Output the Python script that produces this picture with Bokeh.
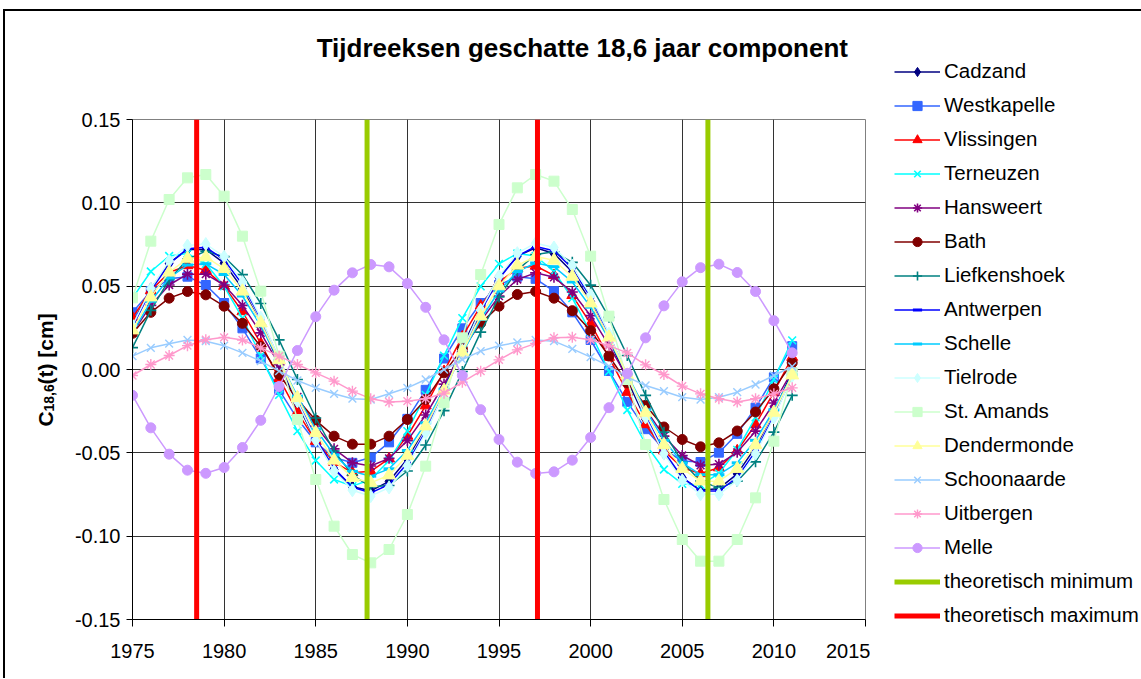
import math
from bokeh.plotting import figure
from bokeh.layouts import row, column
from bokeh.models import (Legend, LegendItem, FixedTicker, PrintfTickFormatter, Range1d)
from bokeh.core.properties import value
from bokeh.embed import file_html
from bokeh.resources import INLINE

years = list(range(1975, 2012))

cadzand = [0.0277, 0.0485, 0.0638, 0.0720, 0.0720, 0.0638, 0.0485, 0.0277, 0.0037, -0.0207,
           -0.0427, -0.0599, -0.0704, -0.0728, -0.0671, -0.0537, -0.0343, -0.0111, 0.0135, 0.0365,
           0.0554, 0.0680, 0.0730, 0.0696, 0.0585, 0.0407, 0.0183, -0.0062, -0.0299, -0.0503,
           -0.0650, -0.0723, -0.0715, -0.0626, -0.0466, -0.0254, -0.0012]
westkapelle = [0.0343, 0.0470, 0.0544, 0.0557, 0.0507, 0.0399, 0.0247, 0.0066, -0.0122, -0.0296,
               -0.0437, -0.0528, -0.0560, -0.0528, -0.0437, -0.0296, -0.0122, 0.0066, 0.0247, 0.0399,
               0.0507, 0.0557, 0.0544, 0.0470, 0.0343, 0.0177, -0.0009, -0.0194, -0.0358, -0.0480,
               -0.0549, -0.0555, -0.0499, -0.0386, -0.0229, -0.0047, 0.0140]
vlissingen = [0.0312, 0.0474, 0.0582, 0.0624, 0.0596, 0.0500, 0.0348, 0.0156, -0.0053, -0.0256,
              -0.0430, -0.0556, -0.0619, -0.0611, -0.0535, -0.0399, -0.0217, -0.0011, 0.0197, 0.0382,
              0.0524, 0.0607, 0.0621, 0.0565, 0.0445, 0.0275, 0.0074, -0.0136, -0.0330, -0.0487,
              -0.0589, -0.0624, -0.0589, -0.0487, -0.0330, -0.0136, 0.0074]
terneuzen = [0.0428, 0.0588, 0.0681, 0.0696, 0.0634, 0.0499, 0.0308, 0.0083, -0.0152, -0.0370,
             -0.0546, -0.0660, -0.0700, -0.0660, -0.0546, -0.0370, -0.0152, 0.0083, 0.0308, 0.0499,
             0.0634, 0.0696, 0.0681, 0.0588, 0.0428, 0.0221, -0.0012, -0.0243, -0.0447, -0.0600,
             -0.0686, -0.0694, -0.0623, -0.0482, -0.0287, -0.0059, 0.0175]
hansweert = [0.0220, 0.0385, 0.0507, 0.0572, 0.0572, 0.0507, 0.0385, 0.0220, 0.0029, -0.0164,
             -0.0339, -0.0476, -0.0559, -0.0579, -0.0533, -0.0427, -0.0273, -0.0088, 0.0107, 0.0290,
             0.0440, 0.0540, 0.0580, 0.0553, 0.0465, 0.0323, 0.0145, -0.0049, -0.0238, -0.0400,
             -0.0516, -0.0575, -0.0568, -0.0497, -0.0370, -0.0201, -0.0010]
bath = [0.0217, 0.0343, 0.0428, 0.0468, 0.0448, 0.0380, 0.0277, 0.0137, -0.0030, -0.0180,
        -0.0305, -0.0400, -0.0448, -0.0448, -0.0400, -0.0300, -0.0180, -0.0020, 0.0125, 0.0277,
        0.0380, 0.0450, 0.0468, 0.0428, 0.0353, 0.0233, 0.0081, -0.0080, -0.0215, -0.0345,
        -0.0420, -0.0464, -0.0440, -0.0369, -0.0255, -0.0116, 0.0040]
liefkenshoek = [0.0131, 0.0355, 0.0539, 0.0662, 0.0710, 0.0677, 0.0569, 0.0396, 0.0178, -0.0060,
                -0.0291, -0.0489, -0.0632, -0.0704, -0.0696, -0.0609, -0.0453, -0.0247, -0.0012, 0.0224,
                0.0435, 0.0596, 0.0690, 0.0706, 0.0643, 0.0506, 0.0313, 0.0084, -0.0155, -0.0376,
                -0.0554, -0.0670, -0.0710, -0.0670, -0.0554, -0.0376, -0.0155]
antwerpen = [0.0257, 0.0473, 0.0634, 0.0725, 0.0733, 0.0659, 0.0510, 0.0303, 0.0062, -0.0186,
             -0.0413, -0.0593, -0.0706, -0.0740, -0.0690, -0.0562, -0.0370, -0.0137, 0.0112, 0.0348,
             0.0545, 0.0680, 0.0738, 0.0713, 0.0607, 0.0433, 0.0210, -0.0037, -0.0280, -0.0491,
             -0.0647, -0.0729, -0.0729, -0.0647, -0.0491, -0.0280, -0.0037]
schelle = [0.0222, 0.0409, 0.0549, 0.0627, 0.0634, 0.0570, 0.0441, 0.0262, 0.0054, -0.0160,
           -0.0357, -0.0513, -0.0611, -0.0640, -0.0596, -0.0486, -0.0320, -0.0118, 0.0097, 0.0301,
           0.0471, 0.0588, 0.0639, 0.0617, 0.0525, 0.0374, 0.0181, -0.0032, -0.0242, -0.0425,
           -0.0560, -0.0631, -0.0631, -0.0560, -0.0425, -0.0242, -0.0032]
tielrode = [0.0264, 0.0485, 0.0652, 0.0744, 0.0753, 0.0677, 0.0524, 0.0311, 0.0064, -0.0191,
            -0.0424, -0.0609, -0.0725, -0.0760, -0.0708, -0.0577, -0.0380, -0.0140, 0.0115, 0.0358,
            0.0560, 0.0698, 0.0758, 0.0732, 0.0624, 0.0445, 0.0215, -0.0038, -0.0288, -0.0505,
            -0.0665, -0.0749, -0.0749, -0.0665, -0.0505, -0.0288, -0.0038]
st_amands = [0.043, 0.077, 0.102, 0.115, 0.117, 0.104, 0.080, 0.047, 0.008, -0.030,
             -0.066, -0.094, -0.111, -0.116, -0.108, -0.087, -0.058, -0.020, 0.019, 0.057,
             0.087, 0.109, 0.117, 0.113, 0.096, 0.068, 0.032, -0.006, -0.045, -0.078,
             -0.102, -0.115, -0.115, -0.102, -0.077, -0.043, -0.002]
dendermonde = [0.0236, 0.0434, 0.0583, 0.0666, 0.0674, 0.0605, 0.0469, 0.0279, 0.0057, -0.0170,
               -0.0379, -0.0545, -0.0649, -0.0680, -0.0634, -0.0516, -0.0340, -0.0126, 0.0103, 0.0320,
               0.0501, 0.0625, 0.0678, 0.0655, 0.0558, 0.0398, 0.0193, -0.0034, -0.0258, -0.0452,
               -0.0595, -0.0670, -0.0670, -0.0595, -0.0452, -0.0258, -0.0034]
schoonaarde = [0.0080, 0.0130, 0.0155, 0.0177, 0.0170, 0.0143, 0.0100, 0.0050, -0.0010, -0.0066,
               -0.0110, -0.0146, -0.0175, -0.0180, -0.0146, -0.0110, -0.0060, 0.0000, 0.0060, 0.0110,
               0.0143, 0.0163, 0.0177, 0.0170, 0.0124, 0.0074, 0.0020, -0.0046, -0.0096, -0.0130,
               -0.0166, -0.0180, -0.0166, -0.0136, -0.0090, -0.0036, 0.0018]
uitbergen = [-0.0036, 0.0030, 0.0084, 0.0143, 0.0179, 0.0193, 0.0177, 0.0130, 0.0080, 0.0030,
             -0.0020, -0.0070, -0.0130, -0.0175, -0.0195, -0.0190, -0.0175, -0.0142, -0.0076, -0.0010,
             0.0058, 0.0118, 0.0157, 0.0190, 0.0193, 0.0178, 0.0143, 0.0100, 0.0028, -0.0030,
             -0.0100, -0.0146, -0.0175, -0.0195, -0.0175, -0.0146, -0.0110]
melle = [-0.0155, -0.0350, -0.0508, -0.0604, -0.0623, -0.0588, -0.0468, -0.0305, -0.0102, 0.0114,
         0.0317, 0.0476, 0.0580, 0.0630, 0.0616, 0.0516, 0.0373, 0.0178, -0.0036, -0.0241,
         -0.0420, -0.0556, -0.0624, -0.0614, -0.0544, -0.0408, -0.0229, -0.0024, 0.0190, 0.0382,
         0.0526, 0.0611, 0.0632, 0.0582, 0.0468, 0.0293, 0.0100]

theor_min_years = [1987.8, 2006.4]
theor_max_years = [1978.5, 1997.1]

x_ticks = [1975, 1980, 1985, 1990, 1995, 2000, 2005, 2010, 2015]
y_ticks = [-0.15, -0.10, -0.05, 0.0, 0.05, 0.10, 0.15]

title_text = "Tijdreeksen geschatte 18,6 jaar component"
ylabel_parts = ["C", "18,6", "(t) [cm]"]

FONT = "Liberation Sans"

series = [
    ("Cadzand", cadzand, "#000080", "diamond", 12, 1),
    ("Westkapelle", westkapelle, "#3366FF", "square", 9, 1),
    ("Vlissingen", vlissingen, "#FF0000", "triangle", 11, 1),
    ("Terneuzen", terneuzen, "#00FFFF", "x", 11, 1.6),
    ("Hansweert", hansweert, "#800080", "asterisk", 11, 1.6),
    ("Bath", bath, "#800000", "circle", 10, 1),
    ("Liefkenshoek", liefkenshoek, "#008080", "cross", 11, 1.6),
    ("Antwerpen", antwerpen, "#0000FF", "dash", 7, 3),
    ("Schelle", schelle, "#00CCFF", "dash", 11, 3),
    ("Tielrode", tielrode, "#CCFFFF", "diamond", 13, 1),
    ("St. Amands", st_amands, "#CCFFCC", "square", 10, 1),
    ("Dendermonde", dendermonde, "#FFFF99", "triangle", 13, 1),
    ("Schoonaarde", schoonaarde, "#99CCFF", "x", 11, 1.4),
    ("Uitbergen", uitbergen, "#FF99CC", "asterisk", 11, 1.4),
    ("Melle", melle, "#CC99FF", "circle", 10, 1),
]
MIN_COLOR = "#99CC00"
MAX_COLOR = "#FF0000"

H = 667


def blank(width, height, xr, yr):
    f = figure(width=width, height=height, output_backend="svg", toolbar_location=None,
               x_range=xr, y_range=yr, x_axis_location=None, y_axis_location=None,
               min_border=0)
    f.grid.visible = False
    f.outline_line_color = None
    f.background_fill_color = "white"
    f.border_fill_color = "white"
    return f


def draw_series(fig):
    """Draw every station series plus the theoretical extremes; return legend items."""
    items = []
    for name, data, color, marker, size, mlw in series:
        lr = fig.line(years, data, line_color=color, line_width=1.5)
        sr = fig.scatter(years, data, marker=marker, size=size, fill_color=color,
                         line_color=color, line_width=mlw)
        items.append(LegendItem(label=name, renderers=[lr, sr]))
    rmin = fig.segment(x0=theor_min_years, y0=[y_ticks[0]] * len(theor_min_years),
                       x1=theor_min_years, y1=[y_ticks[-1]] * len(theor_min_years),
                       line_color=MIN_COLOR, line_width=5)
    rmax = fig.segment(x0=theor_max_years, y0=[y_ticks[0]] * len(theor_max_years),
                       x1=theor_max_years, y1=[y_ticks[-1]] * len(theor_max_years),
                       line_color=MAX_COLOR, line_width=5)
    items.append(LegendItem(label="theoretisch minimum", renderers=[rmin]))
    items.append(LegendItem(label="theoretisch maximum", renderers=[rmax]))
    return items


# ---- y-axis title (with subscript) ----
pl = blank(60, H, Range1d(0, 60), Range1d(H, 0))
pl.text(x=[40], y=[415], text=[ylabel_parts[0]], angle=math.pi / 2,
        text_font=value(FONT), text_font_size="21px", text_font_style="bold",
        text_align="left", text_baseline="alphabetic", text_color="black")
pl.text(x=[43], y=[400], text=[ylabel_parts[1]], angle=math.pi / 2,
        text_font=value(FONT), text_font_size="14px", text_font_style="bold",
        text_align="left", text_baseline="alphabetic", text_color="black")
pl.text(x=[40], y=[373], text=[ylabel_parts[2]], angle=math.pi / 2,
        text_font=value(FONT), text_font_size="21px", text_font_style="bold",
        text_align="left", text_baseline="alphabetic", text_color="black")

# ---- title ----
pt = blank(805, 60, Range1d(0, 805), Range1d(60, 0))
pt.text(x=[494], y=[36], text=[title_text],
        text_font=value(FONT), text_font_size="26px", text_font_style="bold",
        text_align="center", text_baseline="middle", text_color="black")

# ---- main chart ----
p = figure(width=805, height=H - 60, output_backend="svg", toolbar_location=None,
           x_range=Range1d(1975, 2015), y_range=Range1d(-0.15, 0.15),
           min_border_left=67, min_border_right=5, min_border_top=48, min_border_bottom=59)
p.background_fill_color = "white"
p.border_fill_color = "white"
p.outline_line_color = "#808080"
p.outline_line_width = 1

p.xaxis.ticker = FixedTicker(ticks=x_ticks)
p.yaxis.ticker = FixedTicker(ticks=y_ticks)
p.xaxis.formatter = PrintfTickFormatter(format="%d")
p.yaxis.formatter = PrintfTickFormatter(format="%.2f")
for ax in (p.xaxis, p.yaxis):
    ax.minor_tick_line_color = None
    ax.major_tick_in = 0
    ax.axis_line_color = "black"
    ax.major_tick_line_color = "black"
    ax.major_label_text_font = FONT
    ax.major_label_text_font_size = "20px"
    ax.major_label_text_color = "black"
p.xaxis.major_tick_out = 7
p.yaxis.major_tick_out = 6
p.xaxis.major_label_standoff = 17
p.yaxis.major_label_standoff = 6

p.xgrid.ticker = FixedTicker(ticks=x_ticks)
p.ygrid.ticker = FixedTicker(ticks=y_ticks)
for g in (p.xgrid, p.ygrid):
    g.grid_line_color = "black"
    g.grid_line_alpha = 0.8
    g.grid_line_width = 1

draw_series(p)

# ---- legend panel: same series drawn in a figure whose ranges keep them off-view ----
lg = blank(271, H, Range1d(0, 1), Range1d(0, 1))
items = draw_series(lg)
legend = Legend(items=items, location=(24, 51), orientation="vertical",
                label_text_font=FONT, label_text_font_size="20.5px", label_text_color="black",
                glyph_width=46, glyph_height=23, label_height=23, spacing=10,
                padding=0, margin=0, label_standoff=4,
                border_line_color=None, background_fill_alpha=0)
lg.add_layout(legend)

layout = row(pl, column(pt, p, spacing=0), lg, spacing=0,
             styles={"border-top": "2px solid black", "border-left": "2px solid black",
                     "margin-top": "9px", "margin-left": "3px"})

open("out.html", "w").write(file_html(layout, INLINE))
